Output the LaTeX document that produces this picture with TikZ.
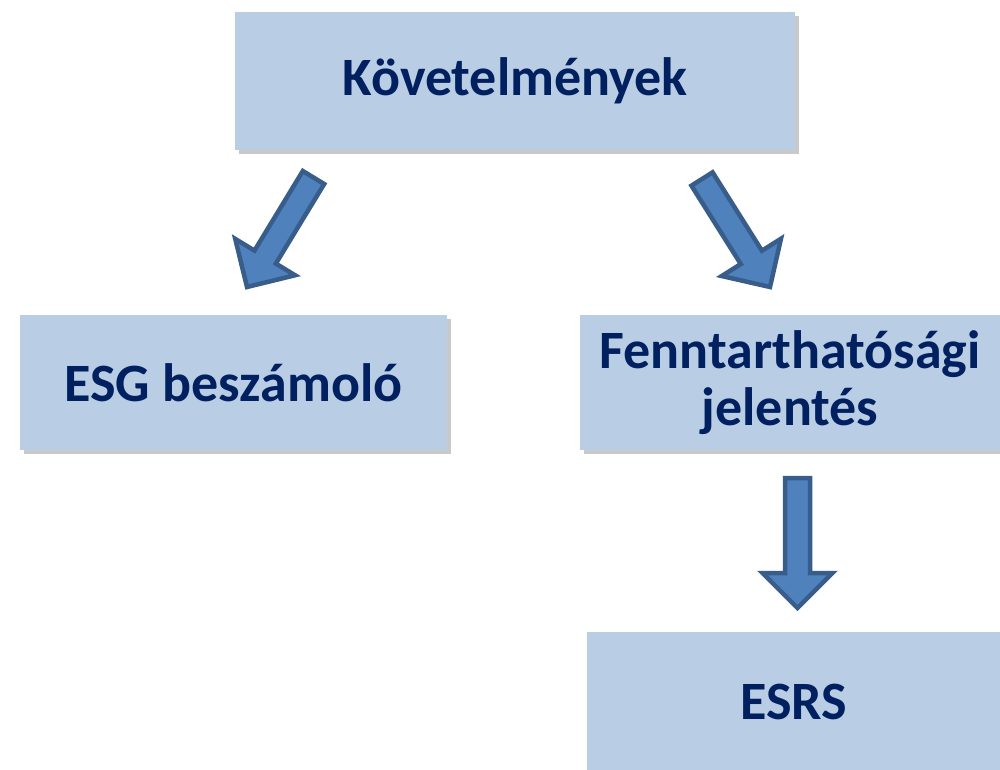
\documentclass[tikz,border=0pt]{standalone}
\usepackage{fontspec}
\setmainfont{Carlito}
\usetikzlibrary{calc,shadows}
\definecolor{boxfill}{HTML}{B9CDE5}
\definecolor{txt}{HTML}{002060}
\definecolor{arrfill}{HTML}{4F81BD}
\definecolor{arrline}{HTML}{385D8A}
\tikzset{
  box/.style={fill=boxfill, draw=none, inner sep=0pt, align=center,
    text=txt, font=\fontsize{54}{57}\selectfont\bfseries,
    drop shadow={shadow xshift=4pt, shadow yshift=-4pt, opacity=0.3, fill=black!70}},
  blockarr/.style={fill=arrfill, draw=arrline, line width=4.5pt, line join=miter}
}
\newcommand{\blockarrow}[2]{%
  \coordinate (H) at ($(#2)!35pt!(#1)$);
  \draw[blockarr] ($(#1)!12.5pt!90:(#2)$) -- ($(H)!12.5pt!-90:(#1)$) -- ($(H)!35pt!-90:(#1)$)
    -- (#2) -- ($(H)!35pt!90:(#1)$) -- ($(H)!12.5pt!90:(#1)$) -- ($(#1)!12.5pt!-90:(#2)$) -- cycle;
}
\begin{document}
\begin{tikzpicture}[x=1pt,y=-1pt]
\useasboundingbox (0,0) rectangle (1000,769);
\node[box, minimum width=560pt, minimum height=138pt] (req) at (515,81) {Követelmények};
\node[box, minimum width=427pt, minimum height=135pt] (esg) at (233.5,382.5) {ESG beszámoló};
\node[box, minimum width=420pt, minimum height=135pt] (fenn) at (790,382.5) {Fenntarthatósági\\jelentés};
\node[box, minimum width=413pt, minimum height=140pt] (esrs) at (793.5,702) {ESRS};
\coordinate (a1t) at (313.5,177.5);
\coordinate (a1p) at (247,287);
\coordinate (a2t) at (702,179);
\coordinate (a2p) at (770,287);
\coordinate (a3t) at (797.5,478);
\coordinate (a3p) at (797.5,608);
\blockarrow{a1t}{a1p}
\blockarrow{a2t}{a2p}
\blockarrow{a3t}{a3p}
\end{tikzpicture}
\end{document}
